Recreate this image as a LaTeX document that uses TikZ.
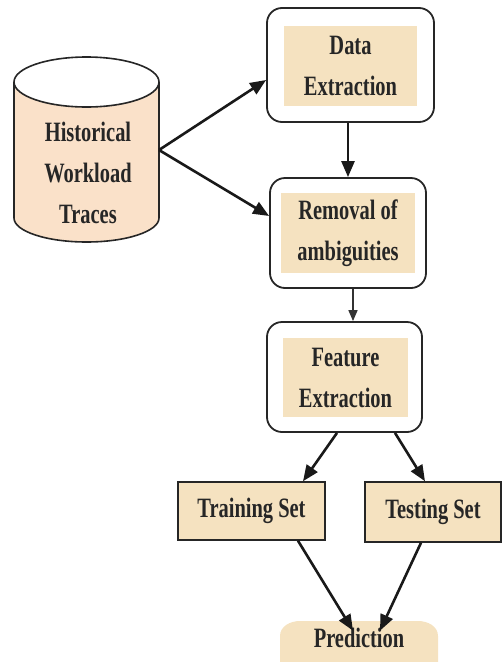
\documentclass[tikz,border=0pt]{standalone}
\usepackage{fontspec}
\setmainfont{Liberation Serif}[FakeStretch=0.73]
\usetikzlibrary{arrows.meta}
\definecolor{peach}{HTML}{FAE1C9}
\definecolor{wheatfill}{HTML}{F5E2C0}
\begin{document}
\begin{tikzpicture}[x=1pt,y=-1pt,
  lbl/.style={font=\fontsize{28}{41}\selectfont\bfseries, align=center, text=black!85},
  outerbox/.style={draw=black!85, line width=1.8pt, rounded corners=15pt, fill=white},
  innerbox/.style={lbl, fill=wheatfill, inner sep=0pt},
  setbox/.style={lbl, draw=black!85, line width=1.5pt, fill=wheatfill, inner sep=0pt},
  flow/.style={draw=black!90, line width=2.6pt, -{Triangle[length=16pt,width=13pt]}},
  thinflow/.style={draw=black!80, line width=1.6pt, -{Triangle[length=11pt,width=9pt]}}]
\useasboundingbox (0,0) rectangle (502,662);

% storage cylinder holding the traces
\fill[peach] (14,82) -- (14,218) arc[start angle=180, end angle=0, x radius=72.5, y radius=24] -- (159,82) -- cycle;
\draw[black!85, line width=1.6pt] (14,82) -- (14,218) arc[start angle=180, end angle=0, x radius=72.5, y radius=24] -- (159,82);
\draw[black!85, line width=1.6pt, fill=white] (86.5,82) ellipse[x radius=72.5, y radius=25];
\node[lbl] (hist) at (88,173) {Historical\\Workload\\Traces};
\coordinate (histout) at (159,150);

% processing stages
\node[outerbox, minimum width=167pt, minimum height=114pt] (data) at (350.5,65) {};
\node[innerbox, minimum width=133pt, minimum height=80pt] (datat) at (350.5,66) {Data\\Extraction};

\node[outerbox, minimum width=156pt, minimum height=110pt] (rem) at (348,233) {};
\node[innerbox, minimum width=134pt, minimum height=80pt] (remt) at (348,233) {Removal of\\ambiguities};

\node[outerbox, minimum width=155pt, minimum height=110pt] (feat) at (344.5,377) {};
\node[innerbox, minimum width=125pt, minimum height=79pt] (featt) at (345.5,377.5) {Feature\\Extraction};

% data split
\node[setbox, minimum width=147pt, minimum height=58pt] (train) at (251.5,511) {Training Set};
\node[setbox, minimum width=136pt, minimum height=60pt] (test) at (433,512) {Testing Set};

% result
\fill[wheatfill] (280,662) -- (280,636) to[out=90, in=180] (300,621) -- (418,621) to[out=0, in=90] (438,636) -- (438,662) -- cycle;
\node[lbl] (pred) at (359,638) {Prediction};

% connectors
\draw[flow] (histout) -- (data.west |- 0,80);
\draw[flow] (histout) -- (rem.west |- 0,216);
\draw[flow] (data.south -| 348,0) -- (rem.north -| 348,0);
\draw[thinflow] (rem.south -| 353,0) -- (feat.north -| 353,0);
\draw[flow] (feat.south -| 337,0) -- (train.north -| 303,0);
\draw[flow] (feat.south -| 395,0) -- (test.north -| 425,0);
\draw[flow] (train.south -| 298,0) -- ([xshift=-6pt,yshift=-6pt]pred.north);
\draw[flow] (test.south -| 421,0) -- ([xshift=21pt,yshift=-6pt]pred.north);
\end{tikzpicture}
\end{document}
